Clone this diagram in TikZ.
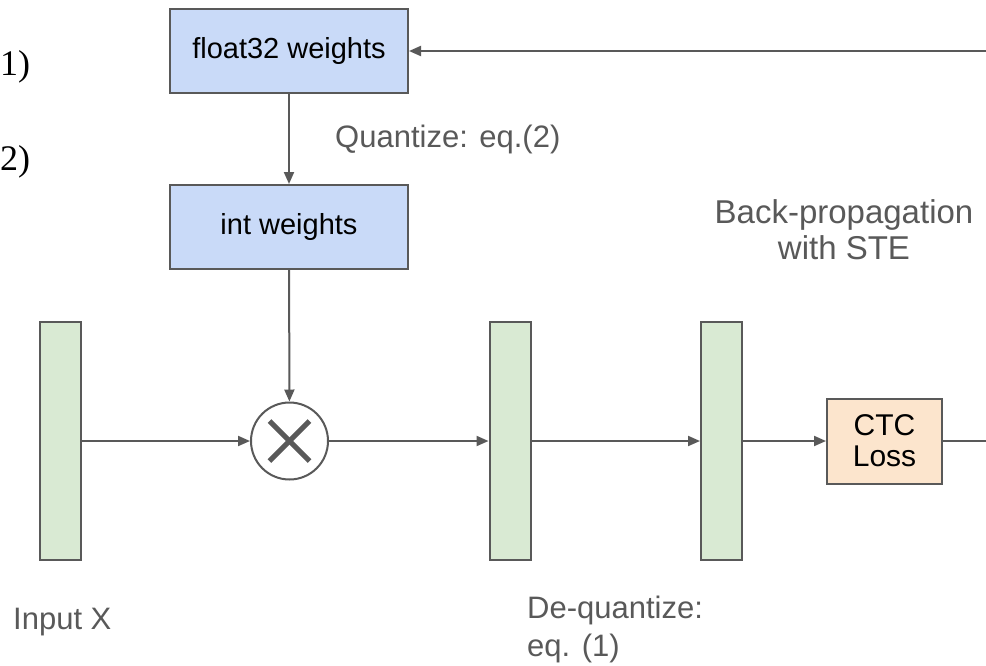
\documentclass[tikz,border=0pt]{standalone}
\usepackage{fontspec}
\setmainfont{Liberation Sans}
\newfontfamily\serifnum{Liberation Serif}
\usetikzlibrary{arrows.meta}
\definecolor{lineg}{HTML}{595959}
\definecolor{bluef}{HTML}{C9DAF8}
\definecolor{greenf}{HTML}{D9EAD3}
\definecolor{orangef}{HTML}{FCE5CD}
\definecolor{txtg}{HTML}{595959}
\begin{document}
\begin{tikzpicture}[x=1pt,y=-1pt,
  wbox/.style={draw=lineg,line width=2pt,fill=bluef,minimum width=238pt,minimum height=84pt,inner sep=0pt,font=\fontsize{29}{34}\selectfont},
  bar/.style={draw=lineg,line width=2pt,fill=greenf,minimum width=41pt,minimum height=238pt,inner sep=0pt},
  lossbox/.style={draw=lineg,line width=2pt,fill=orangef,minimum width=115pt,minimum height=85pt,inner sep=0pt,align=center,font=\fontsize{30}{31}\selectfont},
  conn/.style={draw=lineg,line width=2pt,-{Triangle[length=12pt,width=10pt]}},
  lbl/.style={text=txtg,inner sep=0pt},
  eqnum/.style={inner sep=0pt,font=\serifnum\fontsize{36}{40}\selectfont}]
\useasboundingbox (0,0) rectangle (986,665);
\clip (0,0) rectangle (986,665);
\fill[white] (0,0) rectangle (986,665);

% equation numbers
\node[eqnum,anchor=base west] (e1) at (0,75) {1)};
\node[eqnum,anchor=base west] (e2) at (0,170) {2)};

% weight boxes
\node[wbox] (f32) at (289,51) {float32 weights};
\node[wbox] (intw) at (289,227) {int weights};

% bars
\node[bar] (b1) at (60.5,441) {};
\node[bar] (b2) at (510,441) {};
\node[bar] (b3) at (721.5,441) {};

% multiply
\node[draw=lineg,line width=2pt,circle,minimum size=77pt,inner sep=0pt,fill=white] (mul) at (289.5,441) {};
\draw[lineg,line width=5pt] (mul.center) ++(-20,-20) -- ++(40,40);
\draw[lineg,line width=5pt] (mul.center) ++(20,-20) -- ++(-40,40);

% loss
\node[lossbox] (ctc) at (884.5,441) {CTC\\Loss};

% connectors
\draw[conn] (f32) -- (intw);
\draw[conn] (intw) -- (mul);
\draw[conn] (b1) -- (mul);
\draw[conn] (mul) -- (b2);
\draw[conn] (b2) -- (b3);
\draw[conn] (b3) -- (ctc);
\coordinate (rb) at (1010,441);
\coordinate (rt) at (1010,51);
\draw[conn] (ctc.east) -- (rb) -- (rt) -- (f32.east);

% labels
\node[lbl,anchor=base west,font=\fontsize{31}{36}\selectfont] (q) at (335,147) {Quantize: eq.(2)};
\node[lbl,anchor=base,align=center,font=\fontsize{33}{36}\selectfont] (bp) at (844,259) {Back-propagation\\with STE};
\node[lbl,anchor=base west,font=\fontsize{31}{36}\selectfont] (inx) at (13,629) {Input X};
\node[lbl,anchor=base west,align=left,font=\fontsize{31}{38}\selectfont] (dq) at (527,656) {De-quantize:\\eq. (1)};
\end{tikzpicture}
\end{document}
